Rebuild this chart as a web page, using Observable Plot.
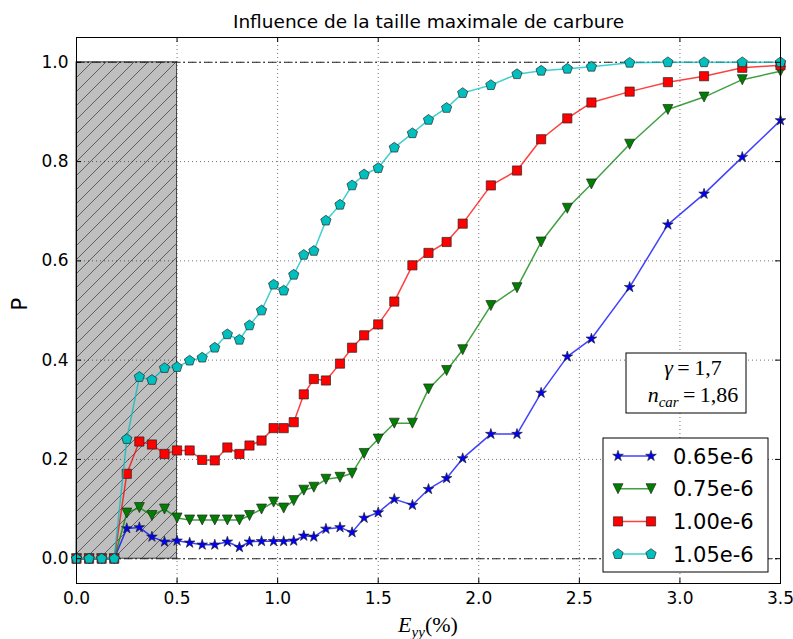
<!DOCTYPE html>
<html>
<head>
<meta charset="utf-8">
<script src="https://cdn.jsdelivr.net/npm/d3@7"></script>
<script src="https://cdn.jsdelivr.net/npm/@observablehq/plot@0.6"></script>
<style>
  body { margin: 0; background: #fff; }
  #chart { width: 793px; height: 639px; position: relative; }
</style>
</head>
<body>
<div id="chart"></div>
<script>
// ---------- data ----------
const strain = [0, 0.0625, 0.125, 0.1875, 0.25, 0.3125, 0.375, 0.4375, 0.5, 0.5625, 0.625, 0.6875, 0.75,
  0.81, 0.86, 0.92, 0.98, 1.03, 1.08, 1.13, 1.18, 1.24, 1.31, 1.37, 1.43, 1.5,
  1.58, 1.67, 1.75, 1.84, 1.92, 2.06, 2.19, 2.31, 2.44, 2.56, 2.75, 2.94, 3.12, 3.31, 3.5];

const p065 = [0, 0, 0, 0, 0.061, 0.063, 0.044, 0.034, 0.036, 0.032, 0.028, 0.028, 0.034,
  0.023, 0.034, 0.035, 0.035, 0.035, 0.036, 0.046, 0.044, 0.060, 0.063, 0.053, 0.082, 0.093,
  0.120, 0.108, 0.140, 0.162, 0.202, 0.251, 0.251, 0.334, 0.407, 0.443, 0.547, 0.673, 0.735, 0.809, 0.883];

const p075 = [0, 0, 0, 0, 0.092, 0.103, 0.087, 0.100, 0.082, 0.078, 0.078, 0.078, 0.078,
  0.078, 0.087, 0.100, 0.114, 0.102, 0.117, 0.138, 0.144, 0.160, 0.164, 0.172, 0.212, 0.241,
  0.273, 0.273, 0.342, 0.379, 0.421, 0.510, 0.546, 0.638, 0.706, 0.755, 0.835, 0.905, 0.930, 0.965, 0.982];

const p100 = [0, 0, 0, 0, 0.171, 0.236, 0.230, 0.211, 0.218, 0.218, 0.199, 0.198, 0.224,
  0.211, 0.228, 0.238, 0.263, 0.263, 0.275, 0.331, 0.362, 0.359, 0.393, 0.425, 0.450, 0.472,
  0.518, 0.591, 0.616, 0.638, 0.675, 0.752, 0.782, 0.845, 0.887, 0.919, 0.941, 0.960, 0.972, 0.989, 0.994];

const p105 = [0, 0, 0, 0, 0.241, 0.366, 0.360, 0.384, 0.386, 0.399, 0.405, 0.425, 0.452,
  0.441, 0.470, 0.500, 0.552, 0.540, 0.572, 0.612, 0.620, 0.681, 0.713, 0.752, 0.774, 0.787,
  0.828, 0.857, 0.884, 0.908, 0.938, 0.954, 0.976, 0.983, 0.987, 0.991, 0.999, 1.0, 1.0, 1.0, 1.0];

const seriesLabels = ["0.65e-6", "0.75e-6", "1.00e-6", "1.05e-6"];
const seriesColors = ["#0000ff", "#008000", "#ff0000", "#00bfbf"];
const xTicks = [0, 0.5, 1.0, 1.5, 2.0, 2.5, 3.0, 3.5];
const yTicks = [0, 0.2, 0.4, 0.6, 0.8, 1.0];
const refLevels = [0, 1];
const shadedZone = [{x1: 0, x2: 0.5, y1: 0, y2: 1}];
const titleText = "Influence de la taille maximale de carbure";
const yLabel = "P";
const paramLines = [["γ", null, "1,7"], ["n", "car", "1,86"]];

// ---------- custom marker symbols (matplotlib-like) ----------
const starSym = {draw(ctx, size) {
  const R = Math.sqrt(size / Math.PI), r = R * 0.382;
  for (let i = 0; i < 10; i++) {
    const a = Math.PI * i / 5, rr = i % 2 ? r : R;
    const x = rr * Math.sin(a), y = -rr * Math.cos(a);
    i ? ctx.lineTo(x, y) : ctx.moveTo(x, y);
  }
  ctx.closePath();
}};
const triDownSym = {draw(ctx, size) {
  const R = Math.sqrt(size / Math.PI);
  ctx.moveTo(-R, -R); ctx.lineTo(R, -R); ctx.lineTo(0, R); ctx.closePath();
}};
const squareSym = {draw(ctx, size) {
  const R = Math.sqrt(size / Math.PI);
  ctx.moveTo(-R, -R); ctx.lineTo(R, -R); ctx.lineTo(R, R); ctx.lineTo(-R, R); ctx.closePath();
}};
const pentagonSym = {draw(ctx, size) {
  const R = Math.sqrt(size / Math.PI);
  for (let i = 0; i < 5; i++) {
    const a = 2 * Math.PI * i / 5;
    const x = R * Math.sin(a), y = -R * Math.cos(a);
    i ? ctx.lineTo(x, y) : ctx.moveTo(x, y);
  }
  ctx.closePath();
}};
const symbols = [starSym, triDownSym, squareSym, pentagonSym];
const symbolR = [5.6, 5.0, 4.6, 5.4];

const seriesValues = [p065, p075, p100, p105];
const rows = seriesValues.flatMap((vals, k) =>
  vals.map((p, i) => ({strain: strain[i], p, series: seriesLabels[k]})));

// ---------- layout ----------
const W = 793, H = 639;
const mL = 76, mR = 13, mT = 37, mB = 56;
const plotW = W - mL - mR, plotH = H - mT - mB;
const tickLen = 5;

const hatchDefs = () => {
  const defs = d3.create("svg:defs");
  const pat = defs.append("pattern").attr("id", "hatch")
    .attr("patternUnits", "userSpaceOnUse").attr("width", 14).attr("height", 14);
  pat.append("path").attr("d", "M-2,2 L2,-2 M0,14 L14,0 M12,16 L16,12")
    .attr("stroke", "#555").attr("stroke-width", 0.9).attr("fill", "none");
  return defs.node();
};

const seriesMarks = seriesLabels.flatMap((label, k) => {
  const data = rows.filter(d => d.series === label);
  return [
    Plot.line(data, {x: "strain", y: "p", stroke: seriesColors[k], strokeWidth: 1.5, strokeOpacity: 0.75}),
    Plot.dot(data, {x: "strain", y: "p", symbol: symbols[k], r: symbolR[k], fill: seriesColors[k],
      stroke: "#222", strokeWidth: 0.8, strokeOpacity: 0.85})
  ];
});

const svg = Plot.plot({
  width: W, height: H,
  marginLeft: mL, marginRight: mR, marginTop: mT, marginBottom: mB,
  style: {fontFamily: "DejaVu Sans", fontSize: "17px", color: "black", background: "white"},
  x: {domain: [0, 3.5]},
  y: {domain: [-0.05, 1.05]},
  marks: [
    hatchDefs,
    Plot.rect(shadedZone, {x1: "x1", x2: "x2", y1: "y1", y2: "y2", fill: "#bfbfbf"}),
    Plot.rect(shadedZone, {x1: "x1", x2: "x2", y1: "y1", y2: "y2", fill: "url(#hatch)", stroke: "#444", strokeWidth: 1}),
    Plot.gridX({ticks: xTicks, stroke: "#000", strokeOpacity: 0.55, strokeDasharray: "1,3", strokeWidth: 1}),
    Plot.gridY({ticks: yTicks, stroke: "#000", strokeOpacity: 0.55, strokeDasharray: "1,3", strokeWidth: 1}),
    Plot.ruleY(refLevels, {stroke: "#222", strokeDasharray: "8,3,2,3", strokeWidth: 1.1}),
    ...seriesMarks,
    Plot.tickX(xTicks, {x: d => d, insetTop: plotH - tickLen, stroke: "black"}),
    Plot.tickX(xTicks, {x: d => d, insetBottom: plotH - tickLen, stroke: "black"}),
    Plot.tickY(yTicks, {y: d => d, insetRight: plotW - tickLen, stroke: "black"}),
    Plot.tickY(yTicks, {y: d => d, insetLeft: plotW - tickLen, stroke: "black"}),
    Plot.frame({stroke: "black", strokeWidth: 1}),
    Plot.axisX({ticks: xTicks, tickSize: 0, tickPadding: 8, tickFormat: d3.format(".1f"), label: null, fontSize: 17}),
    Plot.axisY({ticks: yTicks, tickSize: 0, tickPadding: 8, tickFormat: d3.format(".1f"), label: null, fontSize: 17}),
    Plot.text([titleText], {frameAnchor: "top", lineAnchor: "bottom", dy: -10, fontSize: 18.5, fill: "black"}),
    Plot.text([yLabel], {frameAnchor: "left", rotate: -90, dx: -56, fontSize: 21, fill: "black"})
  ]
});

const root = d3.select(svg);

// x label  E_yy(%)
const xl = root.append("text")
  .attr("x", mL + plotW / 2).attr("y", 632).attr("text-anchor", "middle")
  .attr("font-family", "Liberation Serif").attr("font-size", 22).attr("fill", "black");
xl.append("tspan").attr("font-style", "italic").text("E");
xl.append("tspan").attr("font-style", "italic").attr("font-size", 15).attr("dy", 5).text("yy");
xl.append("tspan").attr("dy", -5).text("(%)");

// parameter box
const bx = 626, by = 353, bw = 120, bh = 60;
root.append("rect").attr("x", bx).attr("y", by).attr("width", bw).attr("height", bh)
  .attr("fill", "white").attr("stroke", "black").attr("stroke-width", 1);
paramLines.forEach(([sym, sub, val], i) => {
  const t = root.append("text").attr("x", bx + 67).attr("y", by + 22 + i * 27)
    .attr("text-anchor", "middle").attr("font-family", "Liberation Serif")
    .attr("font-size", 22).attr("fill", "black");
  t.append("tspan").attr("font-style", "italic").text(sym);
  if (sub) {
    t.append("tspan").attr("font-style", "italic").attr("font-size", 15).attr("dy", 5).text(sub);
    t.append("tspan").attr("dy", -5).text("\u2009=\u2009" + val);
  } else {
    t.append("tspan").text("\u2009=\u2009" + val);
  }
});

// legend
const lx = 603, ly = 438, lw = 165, lh = 134;
root.append("rect").attr("x", lx).attr("y", ly).attr("width", lw).attr("height", lh)
  .attr("fill", "white").attr("stroke", "black").attr("stroke-width", 1);
seriesLabels.forEach((label, k) => {
  const yy = ly + 18 + k * 32.7;
  const g = root.append("g");
  g.append("line").attr("x1", lx + 15).attr("x2", lx + 48).attr("y1", yy).attr("y2", yy)
    .attr("stroke", seriesColors[k]).attr("stroke-width", 1.5).attr("stroke-opacity", 0.75);
  const path = d3.symbol(symbols[k], symbolR[k] * symbolR[k] * Math.PI)();
  [lx + 15, lx + 48].forEach(px => {
    g.append("path").attr("d", path).attr("transform", `translate(${px},${yy})`)
      .attr("fill", seriesColors[k]).attr("stroke", "#222").attr("stroke-width", 0.8).attr("stroke-opacity", 0.85);
  });
  g.append("text").attr("x", lx + 70).attr("y", yy).attr("dy", "0.36em").attr("text-anchor", "start")
    .attr("font-family", "DejaVu Sans").attr("font-size", 21).attr("fill", "black").text(label);
});

document.getElementById("chart").appendChild(svg);
</script>
</body>
</html>
